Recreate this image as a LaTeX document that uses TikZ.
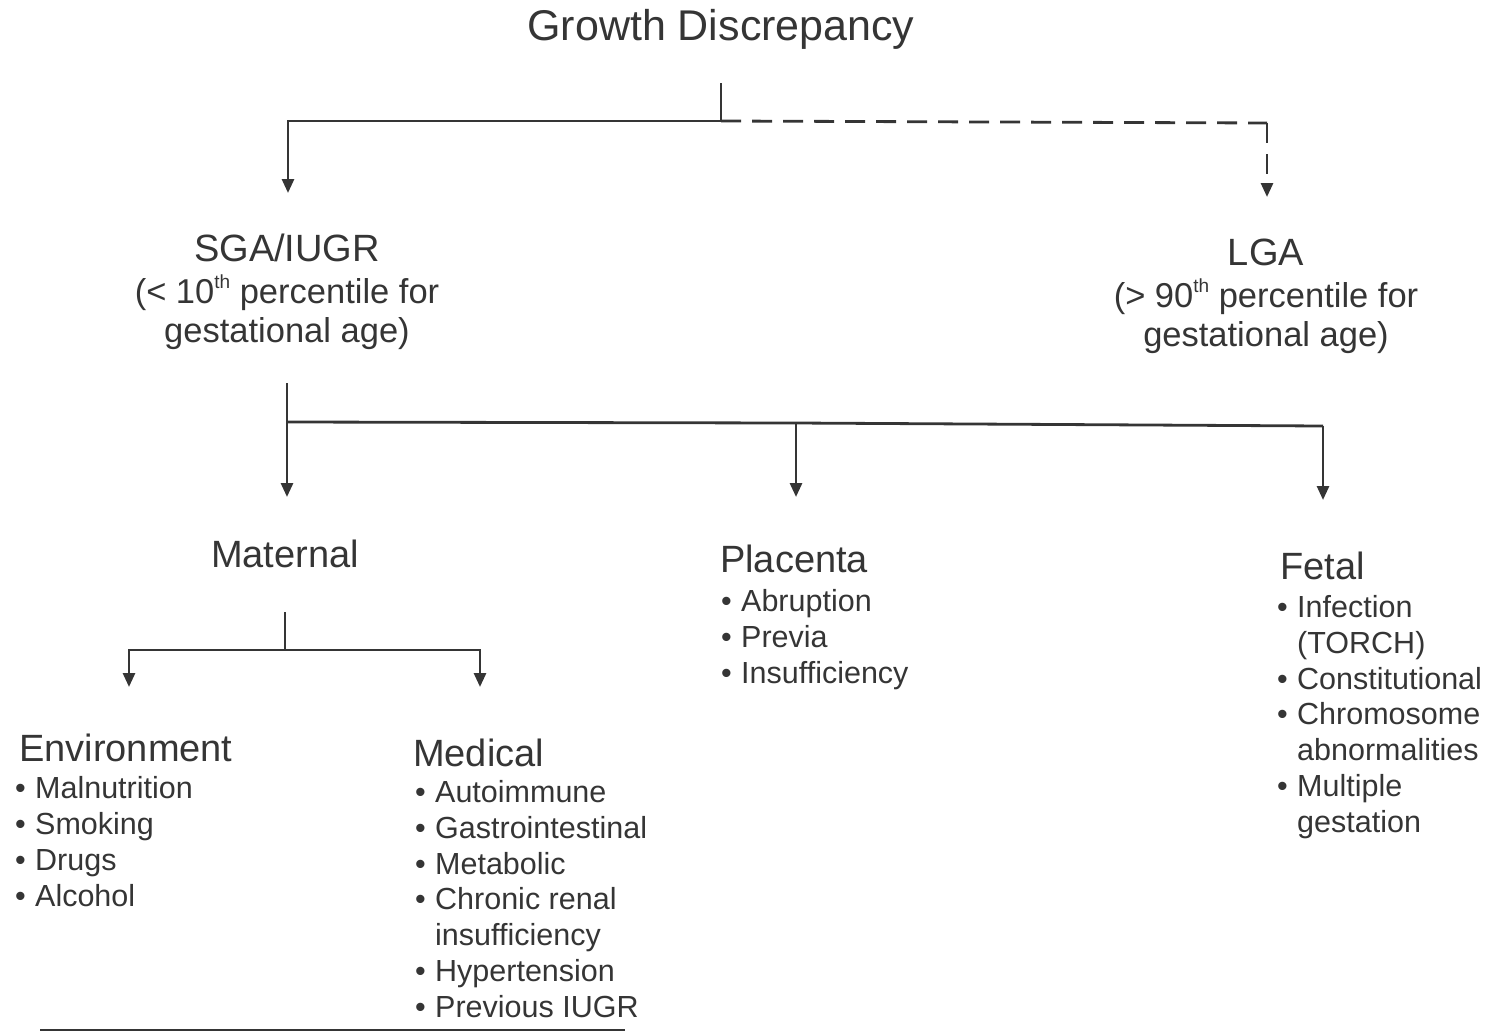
\documentclass[tikz,border=0pt]{standalone}
\usepackage{fontspec}
\setmainfont{Liberation Sans}
\usetikzlibrary{arrows.meta}
\definecolor{ink}{HTML}{353535}
\newcommand\bul{\makebox[20pt][l]{•}}
\newcommand\nob{\makebox[20pt][l]{}}
\newcommand\supth{\raisebox{0.42em}{\fontsize{19}{19}\selectfont th}}
\begin{document}
\begin{tikzpicture}[x=1pt,y=-1pt,
  conn/.style={draw=ink, line width=2.8pt},
  arr/.style={conn, -{Triangle[length=14pt,width=12pt]}},
  dashline/.style={conn, dash pattern=on 20pt off 11pt},
  ttl/.style={font=\fontsize{43}{48}\selectfont, text=ink, inner sep=0, anchor=base},
  head/.style={font=\fontsize{38}{42}\selectfont, text=ink, inner sep=0, anchor=base},
  headw/.style={head, anchor=base west},
  sub/.style={font=\fontsize{34.5}{40}\selectfont, text=ink, inner sep=0, anchor=base},
  lst/.style={font=\fontsize{30.5}{35.7}\selectfont, text=ink, inner sep=0, align=left, anchor=base west}]
\useasboundingbox (0,0) rectangle (1488,1034);

% title
\node[ttl] (gd) at (721,40.5) {Growth Discrepancy};

% SGA
\node[head] (sga) at (287,261) {SGA/IUGR};
\node[sub] (sga2) at (287,303) {(< 10\supth\ percentile for};
\node[sub] (sga3) at (287,342) {gestational age)};

% LGA
\node[head] (lga) at (1266,265) {LGA};
\node[sub] (lga2) at (1266,307) {(> 90\supth\ percentile for};
\node[sub] (lga3) at (1266,346) {gestational age)};

% second level (list nodes anchored at the baseline of their last line)
\node[head] (mat) at (285,567) {Maternal};
\node[headw] (pla) at (720,572) {Placenta};
\node[lst] (plal) at (721,683) {\bul Abruption\\\bul Previa\\\bul Insufficiency};
\node[headw] (fet) at (1280,579) {Fetal};
\node[lst] (fetl) at (1277,832) {\bul Infection\\\nob (TORCH)\\\bul Constitutional\\\bul Chromosome\\\nob abnormalities\\\bul Multiple\\\nob gestation};

% third level
\node[headw] (env) at (19,761) {Environment};
\node[lst] (envl) at (15,906) {\bul Malnutrition\\\bul Smoking\\\bul Drugs\\\bul Alcohol};
\node[headw] (med) at (413,766) {Medical};
\node[lst] (medl) at (415,1017) {\bul Autoimmune\\\bul Gastrointestinal\\\bul Metabolic\\\bul Chronic renal\\\nob insufficiency\\\bul Hypertension\\\bul Previous IUGR};

% junction coordinates
\coordinate (gdtop) at (721,83);
\coordinate (gdj) at (721,121);
\coordinate (sgaj) at (288,121);
\coordinate (sgaa) at (288,193);
\coordinate (lgaj) at (1267,123);
\coordinate (lgaa) at (1267,197);
\coordinate (sgabot) at (287,383);
\coordinate (sgaj2) at (287,422);
\coordinate (mata) at (287,497);
\coordinate (plaj) at (796,423);
\coordinate (plaa) at (796,497);
\coordinate (fetj) at (1323,426);
\coordinate (feta) at (1323,500);
\coordinate (matbot) at (285,612);
\coordinate (matj) at (285,650);
\coordinate (envj) at (129,650);
\coordinate (enva) at (129,687);
\coordinate (medj) at (480,650);
\coordinate (meda) at (480,687);
\coordinate (rulel) at (40,1030);
\coordinate (ruler) at (625,1030);

% connectors
\draw[conn] (gdtop) -- (gdj);
\draw[arr] (gdj) -- (sgaj) -- (sgaa);
\draw[dashline] (gdj) -- (lgaj);
\draw[arr, dashline] (lgaj) -- (lgaa);

\draw[arr] (sgabot) -- (mata);
\draw[conn] (sgaj2) -- (plaj) -- (fetj);
\draw[arr] (plaj) -- (plaa);
\draw[arr] (fetj) -- (feta);

\draw[conn] (matbot) -- (matj);
\draw[arr] (matj) -- (envj) -- (enva);
\draw[arr] (matj) -- (medj) -- (meda);

\draw[conn, line width=2.2pt] (rulel) -- (ruler);
\end{tikzpicture}
\end{document}
